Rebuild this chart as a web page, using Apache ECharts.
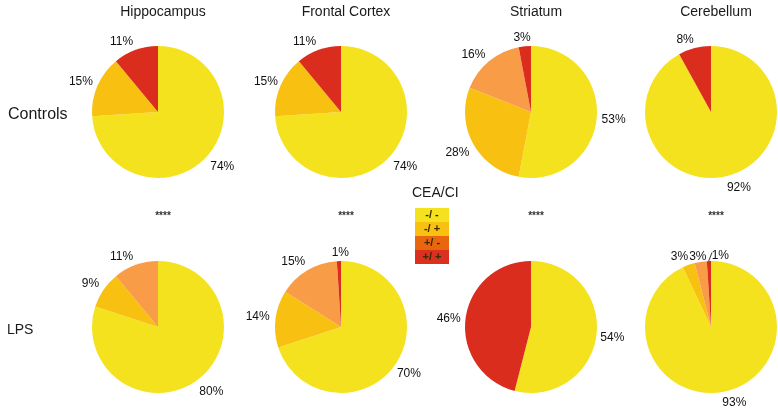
<!DOCTYPE html>
<html>
<head>
<meta charset="utf-8">
<script src="https://cdn.jsdelivr.net/npm/echarts@6/dist/echarts.min.js"></script>
<style>html,body{margin:0;padding:0;background:#fff}#c{width:778px;height:408px}</style>
</head>
<body>
<div id="c"></div>
<script>
const regions = ['Hippocampus', 'Frontal Cortex', 'Striatum', 'Cerebellum'];
const groups = ['Controls', 'LPS'];
const categories = ['-/ -', '-/ +', '+/ -', '+/ +'];
const legendTitle = 'CEA/CI';
const controls = [[74, 15, 0, 11], [74, 15, 0, 11], [53, 28, 16, 3], [92, 0, 0, 8]];
const lps = [[80, 9, 11, 0], [70, 14, 15, 1], [54, 0, 0, 46], [93, 3, 3, 1]];
const significance = ['****', '****', '****', '****'];

const pieColors = ['#f5e21f', '#f8c010', '#f99c48', '#da2d1d'];
const legendColors = ['#f5e21f', '#f8c010', '#e9650e', '#d9301f'];
const FONT = '"Liberation Sans", Arial, Helvetica, sans-serif';
const colX = [158, 341, 531, 711];
const rowY = [112, 327];
const R = 66;
// small manual nudges for label placement: "row-col-item" -> [dx, dy]
const labelNudge = {
  '0-0-0': [3, -2.5], '0-0-1': [0, 3], '0-0-3': [-8, 8.5],
  '0-1-0': [3, -2.5], '0-1-1': [2, 3], '0-1-3': [-8, 8.5],
  '0-2-0': [-1, 0], '0-2-2': [-4, 7], '0-2-3': [-1, 9],
  '0-3-0': [7, -6], '0-3-3': [-5, 9],
  '1-0-0': [4, -3], '1-0-1': [2, 4], '1-0-2': [-8, 9],
  '1-1-0': [0, -3], '1-1-2': [-5, 7], '1-1-3': [2, 10],
  '1-2-0': [-2, 0], '1-2-3': [1, 2],
  '1-3-0': [5, -6], '1-3-1': [-3, 8.5], '1-3-2': [0, 12.5], '1-3-3': [12, 13]
};

const series = [];
const sets = [controls, lps];
sets.forEach((set, r) => {
  set.forEach((vals, c) => {
    const data = categories.map((name, i) => ({ name, value: vals[i], itemStyle: { color: pieColors[i] } }));
    series.push({
      type: 'pie', center: [colX[c], rowY[r]], radius: [0, R], startAngle: 90, clockwise: true,
      silent: true, label: { show: false }, labelLine: { show: false }, minAngle: 0,
      data
    });
    series.push({
      type: 'pie', center: [colX[c], rowY[r]], radius: [R, R + 30], startAngle: 90, clockwise: true,
      silent: true, minAngle: 0,
      itemStyle: { color: 'rgba(0,0,0,0)' },
      label: {
        show: true, position: 'inside', color: '#111', fontSize: 12, fontFamily: FONT,
        formatter: p => p.value ? p.value + '%' : ''
      },
      labelLine: { show: false },
      data: categories.map((name, i) => {
        const nudge = labelNudge[r + '-' + c + '-' + i];
        const d = { name, value: vals[i] };
        if (nudge) d.label = { offset: nudge };
        return d;
      })
    });
  });
});

const titles = [];
regions.forEach((t, c) => titles.push({
  text: t, left: colX[c], top: 0, textAlign: 'center',
  textStyle: { fontSize: 14, fontWeight: 'normal', color: '#1a1a1a', fontFamily: FONT }
}));
significance.forEach((t, c) => titles.push({
  text: t, left: colX[c], top: 206, textAlign: 'center',
  textStyle: { fontSize: 10, fontWeight: 'bold', color: '#333', fontFamily: FONT }
}));
titles.push({ text: groups[0], left: 3, top: 102, textStyle: { fontSize: 16, fontWeight: 'normal', color: '#1a1a1a', fontFamily: FONT } });
titles.push({ text: groups[1], left: 2, top: 318, textStyle: { fontSize: 14, fontWeight: 'normal', color: '#1a1a1a', fontFamily: FONT } });

const graphic = [{
  type: 'text', left: 412, top: 186,
  style: { text: legendTitle, fontSize: 14, fill: '#1a1a1a', fontFamily: FONT }
}, {
  type: 'line', shape: { x1: 708.5, y1: 261.5, x2: 712, y2: 252.5 }, style: { stroke: '#333', lineWidth: 1 }
}];
categories.forEach((name, i) => {
  graphic.push({ type: 'rect', shape: { x: 415, y: 208 + i * 14, width: 34, height: 14 }, style: { fill: legendColors[i] } });
  graphic.push({ type: 'text', x: 432, y: 215 + i * 14, style: { text: name, fontSize: 11, fontWeight: 'bold', fill: '#3a2a00', align: 'center', verticalAlign: 'middle', fontFamily: FONT } });
});

const chart = echarts.init(document.getElementById('c'), null, { renderer: 'canvas' });
chart.setOption({ animation: false, backgroundColor: '#fff', title: titles, graphic, series });
</script>
</body>
</html>
